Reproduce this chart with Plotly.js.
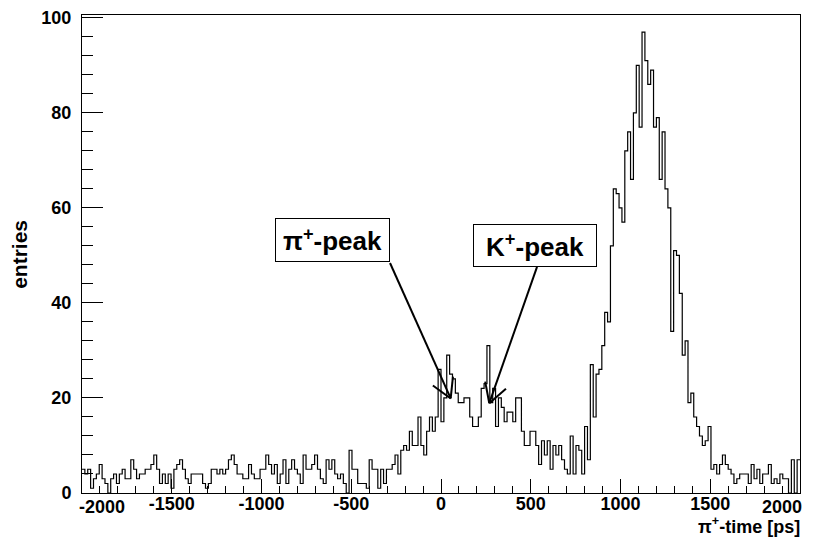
<!DOCTYPE html>
<html>
<head>
<meta charset="utf-8">
<script src="https://cdn.plot.ly/plotly-3.0.1.min.js"></script>
<style>
  html, body { margin: 0; padding: 0; background: #fff; }
  #chart { width: 828px; height: 557px; }
</style>
</head>
<body>
<div id="chart"></div>
<script>
// ---- data ----
const binLow = -2000;      // lower edge of the histogram [ps]
const binWidth = 16;       // bin width [ps]
const counts = [
  5,4,5,1,3,4,6,3,2,0, 3,4,2,4,5,3,3,7,5,3,
  4,4,5,5,6,8,5,2,4,2, 4,1,5,6,7,5,3,2,4,4,
  4,4,2,1,2,5,5,4,5,4, 5,7,8,6,4,4,3,3,6,4,
  3,3,5,5,8,6,4,6,2,4, 7,2,5,7,5,4,2,8,5,5,
  6,8,5,3,2,7,5,7,4,3, 4,2,0,9,5,5,2,2,2,1,
  7,5,5,1,5,2,5,5,6,8, 4,9,10,9,13,10,10,16,10,8,
  13,16,13,16,26,15,20,29,25,24, 21,19,19,20,20,16,14,14,16,22,
  23,31,19,22,14,20,18,15,17,17, 15,20,20,13,10,10,13,13,10,6,
  11,8,11,5,10,8,10,7,5,4, 12,4,10,9,4,14,7,27,16,25,
  26,31,38,36,52,64,63,60,57,72, 76,66,80,90,77,97,91,86,89,77,
  79,66,76,64,60,34,51,50,42,29, 32,19,21,16,14,12,10,11,14,5,
  6,4,6,8,6,5,4,2,3,4, 4,4,2,6,3,5,2,4,4,6,
  2,3,2,4,3,3,0,7,0,7
];
// inner x tick labels (drawn by the axis); the two edge labels sit inside the frame
const xTickVals = [-1500, -1000, -500, 0, 500, 1000, 1500];
const xTickText = ['-1500', '-1000', '-500', '0', '500', '1000', '1500'];
const xEdgeVals = [-2000, 2000];
const xEdgeText = ['-2000', '2000'];
const yTickVals = [0, 20, 40, 60, 80, 100];
const yTickText = ['0', '20', '40', '60', '80', '100'];
const xTitle = '\u03c0<sup>+</sup>-time [ps]';
const yTitle = 'entries';
const labelTexts = ['\u03c0<sup>+</sup>-peak', 'K<sup>+</sup>-peak'];
const labelPos = [[-604, 53.3], [524, 52.0]];       // box centres (data coords)
const labelSize = [[113, 42], [122, 41]];            // box sizes (px)
const arrowTails = [[-284, 48.4], [535, 47.6]];
const arrowTips  = [[54, 19.9], [269, 18.9]];

// ---- histogram as a step outline ----
const xs = counts.map((c, i) => binLow + i * binWidth);
xs.push(binLow + counts.length * binWidth);
const ys = counts.slice();
ys.push(counts[counts.length - 1]);

const xRange = [-2000, 2000];
const yRange = [0, 100.6];
const margin = {l: 82, r: 28, t: 15, b: 64};
const plotW = 828 - margin.l - margin.r;
const plotH = 557 - margin.t - margin.b;
const pxX = plotW / (xRange[1] - xRange[0]);
const pxY = plotH / (yRange[1] - yRange[0]);

const FONT = 'Liberation Sans, Arial, Helvetica, sans-serif';
const tickFont = {family: FONT, size: 18, color: '#000', weight: 'bold'};

// arrows as shapes (shaft + two wings)
const shapes = [];
arrowTails.forEach((t, k) => {
  const tip = arrowTips[k];
  shapes.push({type: 'line', xref: 'x', yref: 'y', x0: t[0], y0: t[1], x1: tip[0], y1: tip[1],
               line: {color: '#000', width: 2}});
  const dx = (t[0] - tip[0]) * pxX, dy = (t[1] - tip[1]) * pxY;
  const len = Math.hypot(dx, dy);
  const ux = dx / len, uy = dy / len;
  const wing = 22, ang = 30 * Math.PI / 180;
  [ang, -ang].forEach(a => {
    const wx = ux * Math.cos(a) - uy * Math.sin(a);
    const wy = ux * Math.sin(a) + uy * Math.cos(a);
    shapes.push({type: 'line', xref: 'x', yref: 'y',
                 x0: tip[0], y0: tip[1],
                 x1: tip[0] + wx * wing / pxX, y1: tip[1] + wy * wing / pxY,
                 line: {color: '#000', width: 2}});
  });
});

const annotations = labelTexts.map((txt, k) => ({
  text: txt, xref: 'x', yref: 'y', x: labelPos[k][0], y: labelPos[k][1],
  xanchor: 'center', yanchor: 'middle', showarrow: false,
  width: labelSize[k][0], height: labelSize[k][1],
  bgcolor: '#fff', bordercolor: '#000', borderwidth: 1, borderpad: 0,
  font: {family: FONT, size: 26, color: '#000', weight: 'bold'}
}));
xEdgeVals.forEach((v, k) => annotations.push({
  text: xEdgeText[k], xref: 'x', yref: 'paper', x: v, y: -0.029,
  xanchor: k === 0 ? 'left' : 'right', yanchor: 'middle', showarrow: false,
  xshift: k === 0 ? -4 : 3, borderpad: 0,
  font: tickFont
}));
annotations.push({
  text: xTitle, xref: 'paper', yref: 'paper', x: 1, y: -0.069,
  xanchor: 'right', yanchor: 'middle', showarrow: false, xshift: 2,
  font: {family: FONT, size: 18, color: '#000', weight: 'bold'}
});
annotations.push({
  text: yTitle, xref: 'paper', yref: 'paper', x: -0.088, y: 0.5,
  xanchor: 'center', yanchor: 'middle', textangle: -90, showarrow: false,
  font: {family: FONT, size: 21, color: '#000', weight: 'bold'}
});

const trace = {
  type: 'scatter', mode: 'lines', x: xs, y: ys,
  line: {shape: 'hv', color: '#000', width: 1.2},
  hoverinfo: 'skip', showlegend: false
};

const layout = {
  width: 828, height: 557, margin: margin,
  paper_bgcolor: '#fff', plot_bgcolor: '#fff',
  showlegend: false,
  xaxis: {
    range: xRange, showgrid: false, zeroline: false,
    showline: true, linecolor: '#000', linewidth: 1, mirror: true,
    tickmode: 'array', tickvals: xTickVals, ticktext: xTickText,
    ticks: 'inside', ticklen: 14, tickwidth: 1, tickcolor: '#000',
    minor: {dtick: 100, tick0: -2000, ticks: 'inside', ticklen: 7, tickwidth: 1, tickcolor: '#000', showgrid: false},
    tickfont: tickFont,
    ticklabelstandoff: -6
  },
  yaxis: {
    range: yRange, showgrid: false, zeroline: false,
    showline: true, linecolor: '#000', linewidth: 1, mirror: true,
    tickmode: 'array', tickvals: yTickVals, ticktext: yTickText,
    ticks: 'inside', ticklen: 21, tickwidth: 1, tickcolor: '#000',
    minor: {dtick: 4, tick0: 0, ticks: 'inside', ticklen: 11, tickwidth: 1, tickcolor: '#000', showgrid: false},
    tickfont: tickFont,
    ticklabelstandoff: 6
  },
  shapes: shapes,
  annotations: annotations
};

Plotly.newPlot('chart', [trace], layout, {staticPlot: true, displayModeBar: false});
</script>
</body>
</html>
